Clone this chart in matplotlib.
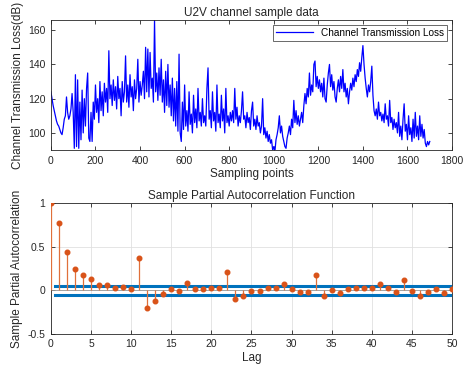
import numpy as np
import matplotlib
matplotlib.use("Agg")
import matplotlib.pyplot as plt

plt.rcParams['font.family'] = ['Liberation Sans', 'DejaVu Sans']

# channel loss samples, read every 5 points (0..1700)
loss_db = [
    124, 120, 116, 113, 110, 107, 105, 104, 102, 100, 99, 103, 108, 110, 121, 112, 108, 110, 114, 123,
    112, 91, 134, 92, 131, 91, 118, 96, 125, 100, 120, 104, 126, 135, 97, 95, 112, 95, 118, 108,
    128, 112, 120, 106, 130, 113, 124, 110, 129, 118, 126, 112, 148, 120, 128, 116, 131, 119, 127, 114,
    133, 120, 126, 110, 130, 118, 124, 145, 118, 128, 115, 134, 121, 127, 113, 131, 120, 126, 143, 118,
    130, 122, 128, 136, 120, 150, 124, 149, 121, 147, 126, 132, 118, 166, 124, 135, 119, 138, 122, 143,
    118, 131, 112, 136, 116, 140, 115, 128, 110, 132, 107, 126, 104, 130, 101, 146, 100, 95, 118, 102,
    128, 104, 113, 101, 124, 105, 111, 100, 122, 106, 114, 103, 126, 107, 112, 104, 120, 106, 110, 104,
    126, 138, 108, 113, 103, 124, 107, 112, 101, 128, 106, 111, 103, 122, 107, 114, 100, 126, 106, 110,
    104, 112, 107, 113, 106, 126, 108, 115, 104, 110, 106, 113, 124, 108, 110, 103, 112, 106, 109, 102,
    113, 118, 104, 108, 102, 110, 104, 106, 100, 104, 120, 99, 103, 97, 101, 95, 99, 94, 96, 90,
    92, 89, 96, 99, 103, 110, 100, 104, 98, 95, 92, 91, 97, 100, 104, 99, 108, 103, 119, 106,
    113, 105, 110, 104, 108, 112, 106, 116, 123, 117, 126, 121, 135, 122, 128, 124, 140, 142, 127, 133,
    126, 131, 124, 129, 121, 132, 120, 118, 128, 135, 140, 127, 134, 125, 130, 121, 118, 126, 131, 124,
    133, 126, 137, 124, 129, 121, 126, 117, 124, 129, 125, 132, 127, 134, 130, 137, 133, 141, 136, 144,
    151, 140, 132, 126, 121, 128, 124, 130, 139, 122, 113, 110, 114, 108, 118, 110, 112, 107, 111, 106,
    117, 108, 110, 104, 119, 106, 109, 102, 108, 103, 106, 100, 112, 98, 104, 96, 108, 117, 101, 105,
    96, 110, 99, 103, 95, 108, 97, 112, 98, 104, 96, 110, 98, 105, 97, 102, 94, 92, 95, 93,
    95,
]
sample_idx = np.arange(len(loss_db)) * 5

# partial autocorrelation, lags 0..50
lags = np.arange(51)
pacf = [
    1.0, 0.77, 0.44, 0.24, 0.17, 0.13, 0.06, 0.06, 0.03, 0.04, 0.02,
    0.37, -0.20, -0.12, -0.04, 0.02, -0.01, 0.08, 0.02, 0.01, 0.03,
    0.03, 0.21, -0.10, -0.065, -0.01, -0.01, 0.03, 0.03, 0.07, 0.02,
    -0.015, -0.015, 0.175, -0.06, 0.0, -0.03, 0.02, 0.03, 0.03, 0.03,
    0.075, 0.03, -0.015, 0.12, -0.01, -0.06, -0.015, 0.01, -0.03, 0.02,
]
bound = 0.05

txt = '#262626'
fig = plt.figure(figsize=(4.67, 3.76), dpi=100)

ax1 = fig.add_axes([0.109, 0.601, 0.859, 0.346])
ax1.plot(sample_idx, loss_db, color='b', lw=0.9, label='Channel Transmission Loss')
ax1.set_xlim(0, 1800)
ax1.set_ylim(90, 166)
ax1.set_xticks(range(0, 1801, 200))
ax1.set_yticks([100, 120, 140, 160])
ax1.set_title('U2V channel sample data', fontsize=8.5, pad=3, color=txt)
ax1.set_xlabel('Sampling points', fontsize=8.5, labelpad=2, color=txt)
ax1.set_ylabel('Channel Transmission Loss(dB)', fontsize=8.5, labelpad=3, color=txt)
leg = ax1.legend(loc='upper right', fontsize=7.2, frameon=True, fancybox=False,
                 edgecolor=txt, handlelength=3.7, borderpad=0.3, borderaxespad=0.5)
leg.get_frame().set_linewidth(0.6)

ax2 = fig.add_axes([0.109, 0.112, 0.859, 0.348])
ax2.grid(True, color='#e0e0e0', lw=0.6)
ax2.set_axisbelow(True)
ax2.axhline(0, color='#999999', lw=0.6, zorder=1)
ax2.plot([0.5, 50], [bound, bound], color='#0072BD', lw=2.2, zorder=2)
ax2.plot([0.5, 50], [-bound, -bound], color='#0072BD', lw=2.2, zorder=2)
ax2.vlines(lags, 0, pacf, color='#E0703A', lw=0.9, zorder=3)
ax2.plot(lags, pacf, 'o', color='#D95319', ms=3.3, zorder=4)
ax2.set_xlim(0, 50)
ax2.set_ylim(-0.5, 1)
ax2.set_xticks(range(0, 51, 5))
ax2.set_yticks([-0.5, 0, 0.5, 1])
ax2.set_yticklabels(['-0.5', '0', '0.5', '1'])
ax2.set_title('Sample Partial Autocorrelation Function', fontsize=8.5, pad=3, color=txt)
ax2.set_xlabel('Lag', fontsize=8.5, labelpad=2, color=txt)
ax2.set_ylabel('Sample Partial Autocorrelation', fontsize=8.5, labelpad=3, color=txt)

for ax in (ax1, ax2):
    ax.tick_params(direction='in', top=True, right=True, labelsize=7.5,
                   length=3, width=0.6, colors=txt, pad=4)
    for s in ax.spines.values():
        s.set_linewidth(0.6)
        s.set_color(txt)

fig.savefig('out.png', dpi=100)
